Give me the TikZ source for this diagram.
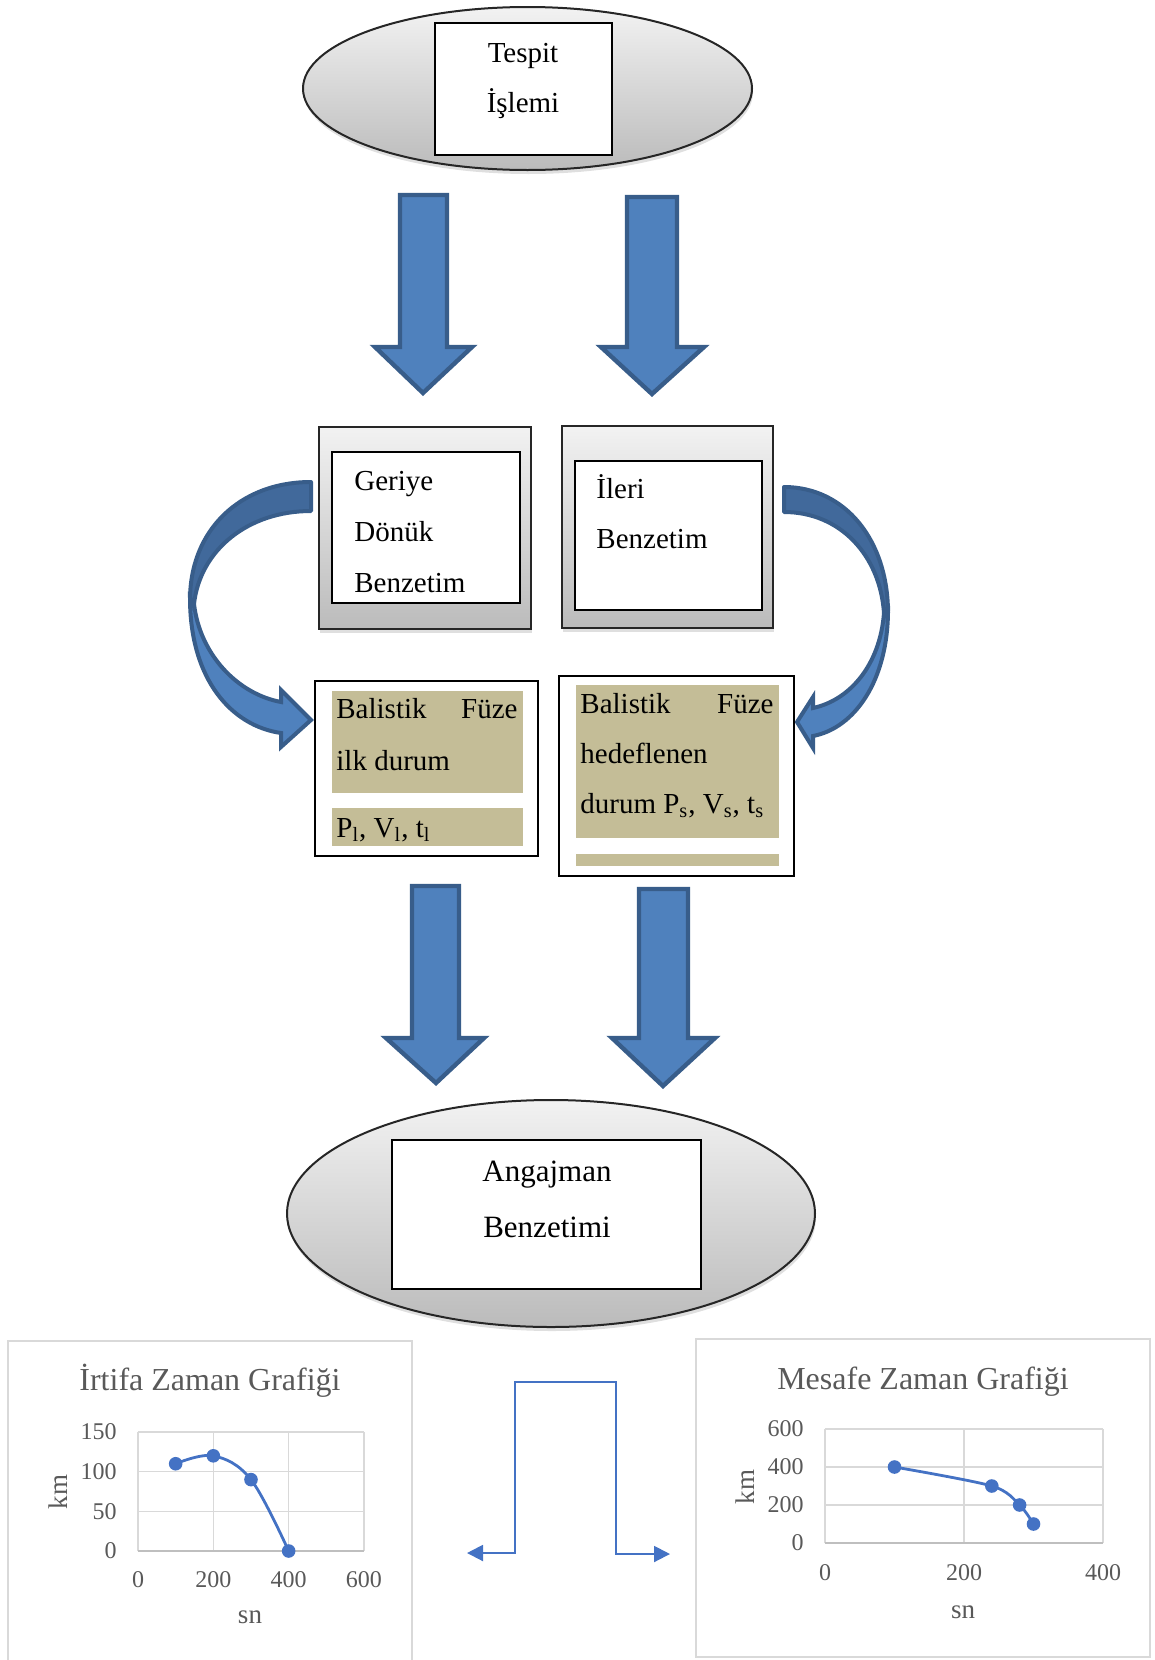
\documentclass[tikz,border=0pt]{standalone}
\usepackage{fontspec}
\setmainfont{Liberation Serif}
\usetikzlibrary{shapes.geometric,shadows,arrows.meta}
\definecolor{arrowfill}{HTML}{4F81BD}
\definecolor{arrowdark}{HTML}{41699B}
\definecolor{arrowline}{HTML}{385D8A}
\definecolor{tanfill}{HTML}{C4BD97}
\definecolor{chartblue}{HTML}{4472C4}
\definecolor{gridgray}{HTML}{D9D9D9}
\definecolor{axisgray}{HTML}{BFBFBF}
\definecolor{labelgray}{HTML}{595959}
\definecolor{shadetop}{HTML}{F2F2F2}
\definecolor{shadebot}{HTML}{BBBBBB}
\begin{document}
\begin{tikzpicture}[x=0.5pt,y=-0.5pt,
  bigarrow/.style={fill=arrowfill,draw=arrowline,line width=2.2pt,line join=miter},
  backband/.style={fill=arrowdark,draw=arrowline,line width=2pt,line join=round},
  frontband/.style={fill=arrowfill,draw=arrowline,line width=2pt,line join=miter},
  grayshape/.style={draw=black!85,line width=1pt,top color=shadetop,bottom color=shadebot,
    drop shadow={shadow xshift=0.5pt,shadow yshift=-2pt,opacity=0.25}},
  whitebox/.style={rectangle,draw=black,line width=1pt,fill=white,inner sep=0pt},
  outerbox/.style={rectangle,draw=black,line width=0.8pt,fill=white,inner sep=0pt},
  tanbox/.style={rectangle,fill=tanfill,inner sep=0pt},
  maintext/.style={inner sep=0pt,font=\fontsize{14.5}{17}\selectfont},
  bigtext/.style={inner sep=0pt,font=\fontsize{15.5}{18}\selectfont},
  gridline/.style={draw=gridgray,line width=0.6pt},
  axisline/.style={draw=axisgray,line width=0.8pt},
  ticklabel/.style={inner sep=0pt,text=labelgray,font=\fontsize{12}{14}\selectfont},
  charttitle/.style={inner sep=0pt,text=labelgray,font=\fontsize{16}{18}\selectfont},
  axistitle/.style={inner sep=0pt,text=labelgray,font=\fontsize{13.5}{16}\selectfont},
  chartline/.style={draw=chartblue,line width=1.4pt},
  conn/.style={draw=chartblue,line width=1pt,-{Triangle[length=8pt,width=8pt]}}
]
\useasboundingbox (0,0) rectangle (1155,1660);

% ---------- top ellipse ----------
\node[ellipse,grayshape,minimum width=224.5pt,minimum height=81.5pt,inner sep=0pt] (e1) at (527.5,88.5) {};
\node[whitebox,minimum width=88.5pt,minimum height=66pt] (r1) at (523.5,89) {};
\node[maintext,anchor=base] (t1a) at (523,62) {Tespit};
\node[maintext,anchor=base] (t1b) at (523,112) {İşlemi};

% ---------- top block arrows ----------
\draw[bigarrow] (400,195) -- (447,195) -- (447,347) -- (472,347) -- (423,393) -- (375,347) -- (400,347) -- cycle;
\draw[bigarrow] (627,197) -- (677,197) -- (677,347) -- (704,347) -- (652,394) -- (601,347) -- (627,347) -- cycle;

% ---------- gray boxes ----------
\node[rectangle,grayshape,minimum width=106pt,minimum height=101pt,inner sep=0pt] (g1) at (425,528) {};
\node[whitebox,minimum width=94pt,minimum height=75.5pt] (w1) at (426,527.5) {};
\node[maintext,anchor=base west] (t2a) at (354,490) {Geriye};
\node[maintext,anchor=base west] (t2b) at (354,541) {Dönük};
\node[maintext,anchor=base west] (t2c) at (354,592) {Benzetim};

\node[rectangle,grayshape,minimum width=105.5pt,minimum height=101pt,inner sep=0pt] (g2) at (667.5,527) {};
\node[whitebox,minimum width=93.5pt,minimum height=74.5pt] (w2) at (668.5,535.5) {};
\node[maintext,anchor=base west] (t3a) at (596,498) {İleri};
\node[maintext,anchor=base west] (t3b) at (596,548) {Benzetim};

% ---------- curved arrows ----------
\draw[backband] (311,482) -- (311,511) .. controls (248,511) and (200,550) .. (194,604)
  -- (190,600) .. controls (190,530) and (240,482) .. (311,482) -- cycle;
\draw[frontband] (190,598) .. controls (190,680) and (232,726) .. (281,733) -- (281,747)
  -- (311,720) -- (281,690) -- (281,702) .. controls (238,694) and (200,655) .. (194,604) -- cycle;

\draw[backband] (784,487) -- (784,512) .. controls (840,512) and (880,555) .. (884,613)
  -- (888,613) .. controls (888,540) and (845,487) .. (784,487) -- cycle;
\draw[frontband] (888,610) .. controls (888,680) and (855,728) .. (813,736) -- (813,748)
  -- (797,722) -- (813,697) -- (813,708) .. controls (850,700) and (880,665) .. (884,613) -- cycle;

% ---------- state boxes ----------
\node[outerbox,minimum width=111.5pt,minimum height=87.5pt] (b1) at (426.5,768.5) {};
\node[tanbox,minimum width=95.5pt,minimum height=51pt] (b1a) at (427.5,742) {};
\node[tanbox,minimum width=95.5pt,minimum height=19pt] (b1b) at (427.5,827) {};
\node[maintext,anchor=base west] (t4a) at (336,718) {Balistik};
\node[maintext,anchor=base east] (t4b) at (518,718) {Füze};
\node[maintext,anchor=base west] (t4c) at (336,770) {ilk durum};
\node[maintext,anchor=base west] (t4d) at (336,837) {P\textsubscript{l}, V\textsubscript{l}, t\textsubscript{l}};

\node[outerbox,minimum width=117.5pt,minimum height=100pt] (b2) at (676.5,776) {};
\node[tanbox,minimum width=101.5pt,minimum height=76.5pt] (b2a) at (677.5,761.5) {};
\node[tanbox,minimum width=101.5pt,minimum height=6pt] (b2b) at (677.5,860) {};
\node[maintext,anchor=base west] (t5a) at (580,713) {Balistik};
\node[maintext,anchor=base east] (t5b) at (774,713) {Füze};
\node[maintext,anchor=base west] (t5c) at (580,763) {hedeflenen};
\node[maintext,anchor=base west] (t5d) at (580,813) {durum P\textsubscript{s}, V\textsubscript{s}, t\textsubscript{s}};

% ---------- lower block arrows ----------
\draw[bigarrow] (412,886) -- (459,886) -- (459,1038) -- (484,1038) -- (436,1083) -- (386,1038) -- (412,1038) -- cycle;
\draw[bigarrow] (639,889) -- (688,889) -- (688,1038) -- (715,1038) -- (663,1086) -- (612,1038) -- (639,1038) -- cycle;

% ---------- bottom ellipse ----------
\node[ellipse,grayshape,minimum width=264pt,minimum height=113.5pt,inner sep=0pt] (e2) at (551,1213.5) {};
\node[whitebox,minimum width=154.5pt,minimum height=74.5pt] (r2) at (546.5,1214.5) {};
\node[bigtext,anchor=base] (t6a) at (547,1181) {Angajman};
\node[bigtext,anchor=base] (t6b) at (547,1237) {Benzetimi};

% ---------- left chart ----------
\draw[gridline] (8,1665) -- (8,1341) -- (412,1341) -- (412,1665);
\node[charttitle,anchor=base] (c1t) at (210,1390) {İrtifa Zaman Grafiği};
\node[axistitle,anchor=base] (c1x) at (250,1623) {sn};
\node[axistitle,rotate=90] (c1y) at (58,1492) {km};
\begin{scope}[shift={(138,1551)},x=0.18833pt,y=0.39667pt]
  \foreach \v in {50,100,150} \draw[gridline] (0,\v) -- (600,\v);
  \foreach \v in {0,200,400,600} \draw[gridline] (\v,0) -- (\v,150);
  \draw[axisline] (0,0) -- (600,0);
  \foreach \v in {0,50,100,150} \node[ticklabel,anchor=east,xshift=-10.5pt] (c1ly\v) at (0,\v) {\v};
  \foreach \v in {0,200,400,600} \node[ticklabel,anchor=base,yshift=-18pt] (c1lx\v) at (\v,0) {\v};
  \draw[chartline] plot[smooth,tension=0.6] coordinates {(100,110) (200,120) (300,90) (400,0)};
  \foreach \p in {(100,110),(200,120),(300,90),(400,0)} \fill[chartblue] \p circle (3.4pt);
\end{scope}

% ---------- middle connector ----------
\coordinate (mtop) at (565,1382);
\coordinate (mleft) at (467,1553);
\coordinate (mright) at (670,1554);
\draw[conn] (mtop) -| ([xshift=24pt]mleft) -- (mleft);
\draw[conn] (mtop) -| ([xshift=-27pt]mright) -- (mright);

% ---------- right chart ----------
\draw[gridline] (696,1339) rectangle (1150,1657);
\node[charttitle,anchor=base] (c2t) at (923,1389) {Mesafe Zaman Grafiği};
\node[axistitle,anchor=base] (c2x) at (963,1618) {sn};
\node[axistitle,rotate=90] (c2y) at (745,1487) {km};
\begin{scope}[shift={(825,1543)},x=0.3475pt,y=0.095pt]
  \foreach \v in {200,400,600} \draw[gridline] (0,\v) -- (400,\v);
  \foreach \v in {0,200,400} \draw[gridline] (\v,0) -- (\v,600);
  \draw[axisline] (0,0) -- (400,0);
  \foreach \v in {0,200,400,600} \node[ticklabel,anchor=east,xshift=-10.5pt] (c2ly\v) at (0,\v) {\v};
  \foreach \v in {0,200,400} \node[ticklabel,anchor=base,yshift=-18.5pt] (c2lx\v) at (\v,0) {\v};
  \draw[chartline] plot[smooth,tension=0.5] coordinates {(100,400) (240,300) (280,200) (300,100)};
  \foreach \p in {(100,400),(240,300),(280,200),(300,100)} \fill[chartblue] \p circle (3.4pt);
\end{scope}
\end{tikzpicture}
\end{document}
